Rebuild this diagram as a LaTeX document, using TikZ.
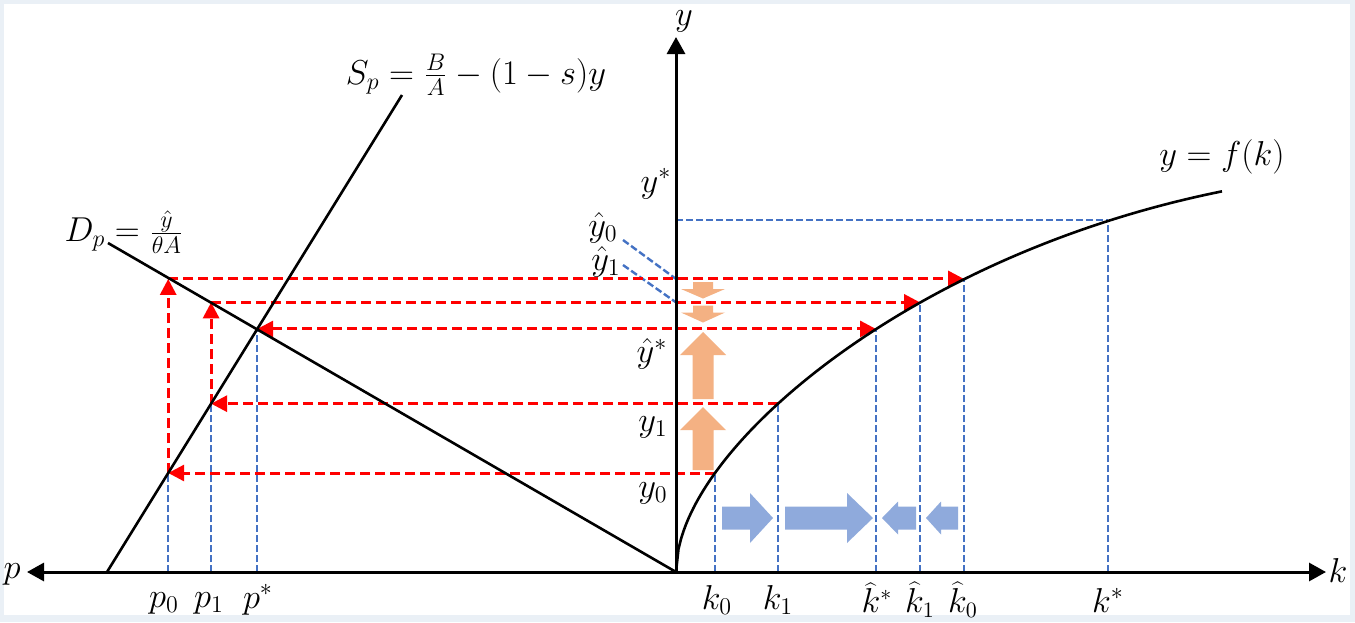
\documentclass[tikz,border=0pt]{standalone}
\usetikzlibrary{arrows.meta}
\definecolor{redd}{RGB}{255,0,0}
\definecolor{blued}{RGB}{68,114,196}
\definecolor{orangea}{RGB}{244,177,131}
\definecolor{bluea}{RGB}{143,170,220}
\definecolor{framec}{RGB}{234,240,246}
\begin{document}
\begin{tikzpicture}[x=0.5pt,y=-0.5pt,
  every node/.style={font=\fontsize{17}{20}\selectfont, inner sep=0pt},
  smalllab/.style={font=\fontsize{16}{19}\selectfont},
  axisline/.style={line width=1.5pt, black},
  curveline/.style={line width=1.3pt, black},
  reddash/.style={draw=redd, line width=1.5pt, dash pattern=on 5pt off 2.5pt},
  bluedash/.style={draw=blued, line width=1.2pt, dash pattern=on 3.5pt off 1.5pt},
  redtip/.style={-{Triangle[length=8pt,width=8pt]}},
  redtiptwo/.style={{Triangle[length=8pt,width=8pt]}-{Triangle[length=8pt,width=8pt]}},
  axtip/.style={{Triangle[length=8.5pt,width=9pt]}-{Triangle[length=8.5pt,width=9pt]}},
  axtipone/.style={-{Triangle[length=8.5pt,width=9pt]}}
]
\useasboundingbox (0,0) rectangle (1355,622);
\fill[framec] (0,0) rectangle (1355,622);
\fill[white] (4,4) rectangle (1350,615);

% key points (curve points lie on y = 572 - f(x-676))
\coordinate (O) at (676,572);
\coordinate (pend) at (27,572);
\coordinate (kend) at (1326,572);
\coordinate (ytop) at (676,37);
\coordinate (C0) at (715,473);
\coordinate (C1) at (778,403.66);
\coordinate (Cs) at (876,328.96);
\coordinate (Ch1) at (920,302.36);
\coordinate (Ch0) at (964,278.92);
\coordinate (Cst) at (1108,220.14);
\coordinate (P0) at (168.2,473);
\coordinate (Q0) at (168.2,278.92);
\coordinate (P1) at (211.1,403.66);
\coordinate (Q1) at (211.1,302.36);
\coordinate (Ps) at (257.2,328.96);
\coordinate (Sb) at (107,572);
\coordinate (St) at (402,95);
\coordinate (Dt) at (108,243);
\coordinate (H0) at (623,240);
\coordinate (H1) at (623,265);

% blue dashed guides
\draw[bluedash] (P0 |- O) -- (P0);
\draw[bluedash] (P1 |- O) -- (P1);
\draw[bluedash] (Ps |- O) -- (Ps);
\draw[bluedash] (C0 |- O) -- (C0);
\draw[bluedash] (C1 |- O) -- (C1);
\draw[bluedash] (Cs |- O) -- (Cs);
\draw[bluedash] (Ch1 |- O) -- (Ch1);
\draw[bluedash] (Ch0 |- O) -- (Ch0);
\draw[bluedash] (Cst |- O) -- (Cst);
\draw[bluedash] (O |- Cst) -- (Cst);
\draw[bluedash] (H0) -- (O |- Q0);
\draw[bluedash] (H1) -- (O |- Q1);

% red dashed arrows
\draw[reddash, redtip] (C0) -- (P0);
\draw[reddash, redtip] (C1) -- (P1);
\draw[reddash, redtiptwo] (Ps) -- (Cs);
\draw[reddash, redtip] (Q1) -- (Ch1);
\draw[reddash, redtip] (Q0) -- (Ch0);
\draw[reddash, redtip] (P0) -- (Q0);
\draw[reddash, redtip] (P1) -- (Q1);

% orange block arrows
\fill[orangea] (692.5,470) -- (692.5,430) -- (680,430) -- (703,407) -- (726,430) -- (713.5,430) -- (713.5,470) -- cycle;
\fill[orangea] (692.5,399) -- (692.5,355) -- (680,355) -- (703,332) -- (726,355) -- (713.5,355) -- (713.5,399) -- cycle;
\fill[orangea] (693,282) -- (693,289) -- (681,289) -- (703,298.5) -- (725,289) -- (713,289) -- (713,282) -- cycle;
\fill[orangea] (693,305.5) -- (693,312.5) -- (681,312.5) -- (703,322.5) -- (725,312.5) -- (713,312.5) -- (713,305.5) -- cycle;

% blue block arrows
\fill[bluea] (722,506.5) -- (750,506.5) -- (750,493) -- (773,518) -- (750,543) -- (750,529.5) -- (722,529.5) -- cycle;
\fill[bluea] (785,506.5) -- (847,506.5) -- (847,493) -- (873,518) -- (847,543) -- (847,529.5) -- (785,529.5) -- cycle;
\fill[bluea] (916,506.5) -- (898,506.5) -- (898,501.5) -- (882,518) -- (898,534.5) -- (898,529.5) -- (916,529.5) -- cycle;
\fill[bluea] (958,506.5) -- (941,506.5) -- (941,501.5) -- (926,518) -- (941,534.5) -- (941,529.5) -- (958,529.5) -- cycle;

% lines and curve
\draw[curveline] (O) -- (Dt);
\draw[curveline] (Sb) -- (St);
\draw[curveline, line join=round] plot[domain=0:546, samples=220, variable=\d]
  ({676+\d},{572-(14.176*sqrt(\d)+0.2821*\d-0.0003465*\d*\d)});

% axes
\draw[axisline, axtip] (pend) -- (kend);
\draw[axisline, axtipone] (O) -- (ytop);

% labels
\node (ylab) at (684,21) {$y$};
\node (plab) at (12,574) {$p$};
\node (klab) at (1338,570) {$k$};
\node (splab) at (476,75) {$S_p=\frac{B}{A}-(1-s)y$};
\node (dplab) at (124,232) {$D_p=\frac{\hat{y}}{\theta A}$};
\node (flab) at (1222,157) {$y=f(k)$};
\node (ystar) at (656,184) {$y^*$};
\node (yh0) at (603,228) {$\hat{y}_0$};
\node (yh1) at (606,262) {$\hat{y}_1$};
\node (yhs) at (652,354) {$\hat{y}^*$};
\node (y1) at (653,427) {$y_1$};
\node (y0) at (653,493) {$y_0$};
\node (p0) at (164,603) {$p_0$};
\node (p1) at (209,603) {$p_1$};
\node (ps) at (258,600) {$p^*$};
\node (k0) at (717,600) {$k_0$};
\node (k1) at (778,600) {$k_1$};
\node[smalllab] (khs) at (877,598) {$\widehat{k}^{*}$};
\node[smalllab] (kh1) at (920,600) {$\widehat{k}_1$};
\node[smalllab] (kh0) at (963,600) {$\widehat{k}_0$};
\node (ks) at (1108,600) {$k^*$};
\end{tikzpicture}
\end{document}
